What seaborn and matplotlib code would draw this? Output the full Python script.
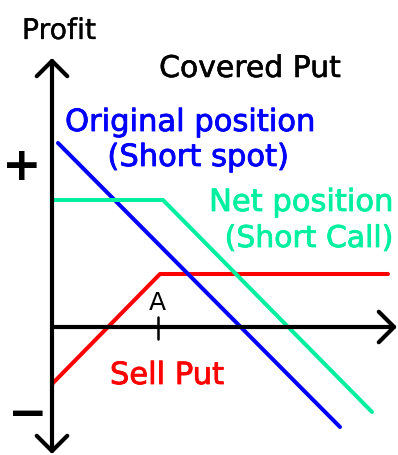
import numpy as np
import pandas as pd
import matplotlib
matplotlib.use('Agg')
import matplotlib.pyplot as plt
import matplotlib.patheffects as pe
import seaborn as sns

# payoff diagram, units ~ pixels measured from the axes origin
strike = 106

red_x = [1, 108, 336]
red_y = [-56, 53, 53]
blue_x = [6, 288]
blue_y = [184, -100]
green_x = [3, 111, 320]
green_y = [127, 127, -85]

series = ['Sell Put', 'Original position', 'Net position']
colors = ['#FF0000', '#0000FF', '#00F0A0']

sns.set_style('white')
plt.rcParams['font.family'] = ['DejaVu Sans']
plt.rcParams['text.color'] = 'black'

df = pd.concat([
    pd.DataFrame({'price': red_x, 'profit': red_y, 'pos': series[0]}),
    pd.DataFrame({'price': blue_x, 'profit': blue_y, 'pos': series[1]}),
    pd.DataFrame({'price': green_x, 'profit': green_y, 'pos': series[2]}),
])

fig = plt.figure(figsize=(3.98, 4.55), dpi=100, facecolor='white')
ax = fig.add_axes([0, 0, 1, 1])
ax.set_xlim(-52, 346)
ax.set_ylim(-128, 327)
ax.axis('off')

# axes with open arrow heads
arr = dict(arrowstyle='<->,head_length=1.1,head_width=1.1', lw=3.0,
           color='black', shrinkA=0, shrinkB=0)
ax.annotate('', xy=(0, 269), xytext=(0, -127), arrowprops=arr)
ax.annotate('', xy=(345, 0), xytext=(0, 0),
            arrowprops=dict(arr, arrowstyle='->,head_length=1.1,head_width=1.1'))
ax.plot([strike, strike], [-12, 10], color='black', lw=1.8)

sns.lineplot(data=df, x='price', y='profit', hue='pos', palette=colors,
             hue_order=series, sort=False, estimator=None, lw=2.9,
             legend=False, ax=ax)


def label(x, y, s, size, color='black', stroke=0.6):
    t = ax.text(x, y, s, fontsize=size, color=color, ha='center', va='baseline')
    if stroke:
        t.set_path_effects([pe.withStroke(linewidth=stroke, foreground=color)])
    return t


label(7, 288, 'Profit', 20.5, stroke=0.2)
label(198, 250, 'Covered Put', 21.5, stroke=0.4)
label(138, 196, 'Original position', 22, colors[1])
label(146, 161, '(Short spot)', 22, colors[1])
label(249, 116, 'Net position', 22, colors[2])
label(257, 80, '(Short Call)', 21.5, colors[2])
label(strike - 1, 17, 'A', 18, stroke=0)
label(115, -57, 'Sell Put', 22, colors[0])
ax.text(-30, 165, '+', fontsize=34, fontweight='bold', ha='center',
        va='center_baseline', color='black')
ax.text(-24, -84, '\u2212', fontsize=34, fontweight='bold', ha='center',
        va='center_baseline', color='black')

fig.savefig('out.png', dpi=100, facecolor='white')
